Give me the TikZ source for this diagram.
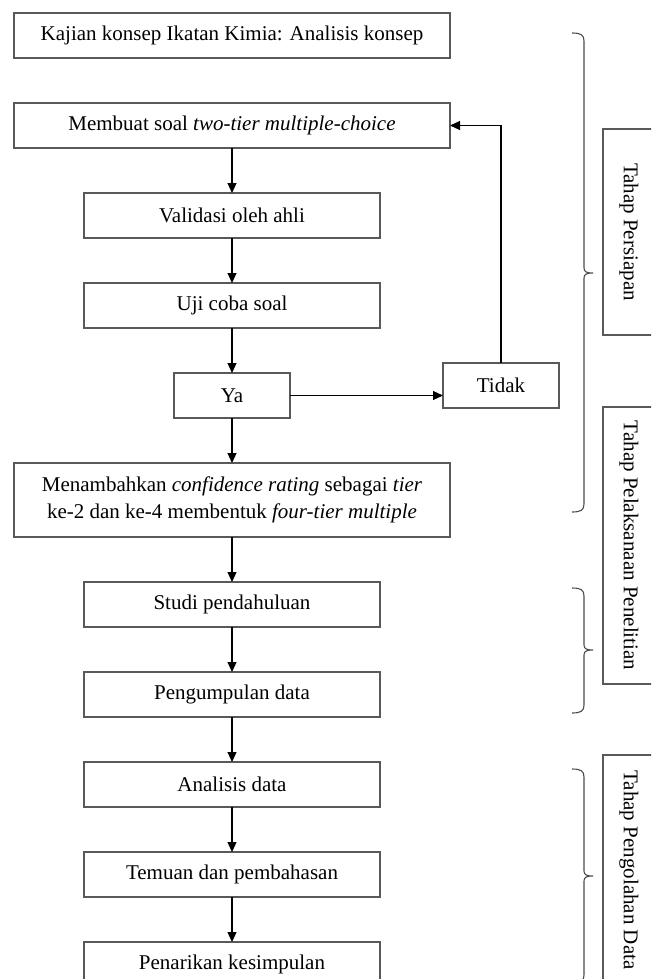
\documentclass[tikz,border=0pt]{standalone}
\usepackage{fontspec}
\setmainfont{Liberation Serif}
\usepackage{tikz}
\usetikzlibrary{arrows.meta,positioning}

% kurung kurawal di sisi kanan (atas, ujung, bawah)
\newcommand{\kurung}[3]{%
  \draw[kurungline] (572,#1) .. controls (581,#1) and (584,#1+2) .. (584,#1+8)
    -- (584,#2-5) .. controls (584,#2-1) and (587,#2) .. (593,#2)
    .. controls (587,#2) and (584,#2+1) .. (584,#2+5)
    -- (584,#3-8) .. controls (584,#3-2) and (581,#3) .. (572,#3);}

\begin{document}
\begin{tikzpicture}[
    x=1pt, y=-1pt,
    node distance=45pt,
    box/.style={draw=black!65, line width=1.1pt, minimum height=45pt, inner sep=2pt, outer sep=0pt, align=center, font=\fontsize{21}{27}\selectfont},
    widebox/.style={box, minimum width=436pt},
    midbox/.style={box, minimum width=296pt},
    smallbox/.style={box, minimum width=116pt},
    tahapbox/.style={draw=black!65, line width=1.1pt, rotate=-90, minimum height=52pt, inner sep=0pt, outer sep=0pt, font=\fontsize{21}{27}\selectfont},
    kurungline/.style={draw=black!70, line width=1.1pt},
    arrow/.style={-{Triangle[length=10pt,width=9pt]}, line width=1.1pt}
]
    \clip (0,0) rectangle (651,979);

    \node[widebox] (kajian) at (232,35.5) {Kajian konsep Ikatan Kimia: Analisis konsep};
    \node[widebox, below=of kajian] (membuat) {Membuat soal \textit{two-tier multiple-choice}};
    \node[midbox, below=of membuat] (validasi) {Validasi oleh ahli};
    \node[midbox, below=of validasi] (ujicoba) {Uji coba soal};
    \node[smallbox, below=of ujicoba] (ya) {Ya};
    \node[smallbox, right=153pt of ya, yshift=10pt] (tidak) {Tidak};
    \node[widebox, minimum height=74pt, below=of ya] (menambahkan) {Menambahkan \textit{confidence rating} sebagai \textit{tier}\\ke-2 dan ke-4 membentuk \textit{four-tier multiple}};
    \node[midbox, below=of menambahkan] (studi) {Studi pendahuluan};
    \node[midbox, below=of studi] (pengumpulan) {Pengumpulan data};
    \node[midbox, below=of pengumpulan] (analisis) {Analisis data};
    \node[midbox, below=of analisis] (temuan) {Temuan dan pembahasan};
    \node[midbox, below=of temuan] (penarikan) {Penarikan kesimpulan};

    \draw[arrow] (membuat) -- (validasi);
    \draw[arrow] (validasi) -- (ujicoba);
    \draw[arrow] (ujicoba) -- (ya);
    \draw[arrow] (ya.east) -- (ya.east -| tidak.west);
    \draw[arrow] (tidak.north) |- (membuat.east);
    \draw[arrow] (ya) -- (menambahkan);
    \draw[arrow] (menambahkan) -- (studi);
    \draw[arrow] (studi) -- (pengumpulan);
    \draw[arrow] (pengumpulan) -- (analisis);
    \draw[arrow] (analisis) -- (temuan);
    \draw[arrow] (temuan) -- (penarikan);

    % tahap
    \kurung{33}{273}{512}
    \kurung{588}{650}{713}
    \kurung{769}{876}{983}
    \node[tahapbox, minimum width=206pt] (persiapan) at (629,232) {Tahap Persiapan};
    \node[tahapbox, minimum width=277pt] (pelaksanaan) at (629,545.5) {Tahap Pelaksanaan Penelitian};
    \node[tahapbox, minimum width=230pt] (pengolahan) at (629,870) {Tahap Pengolahan Data};
\end{tikzpicture}
\end{document}
